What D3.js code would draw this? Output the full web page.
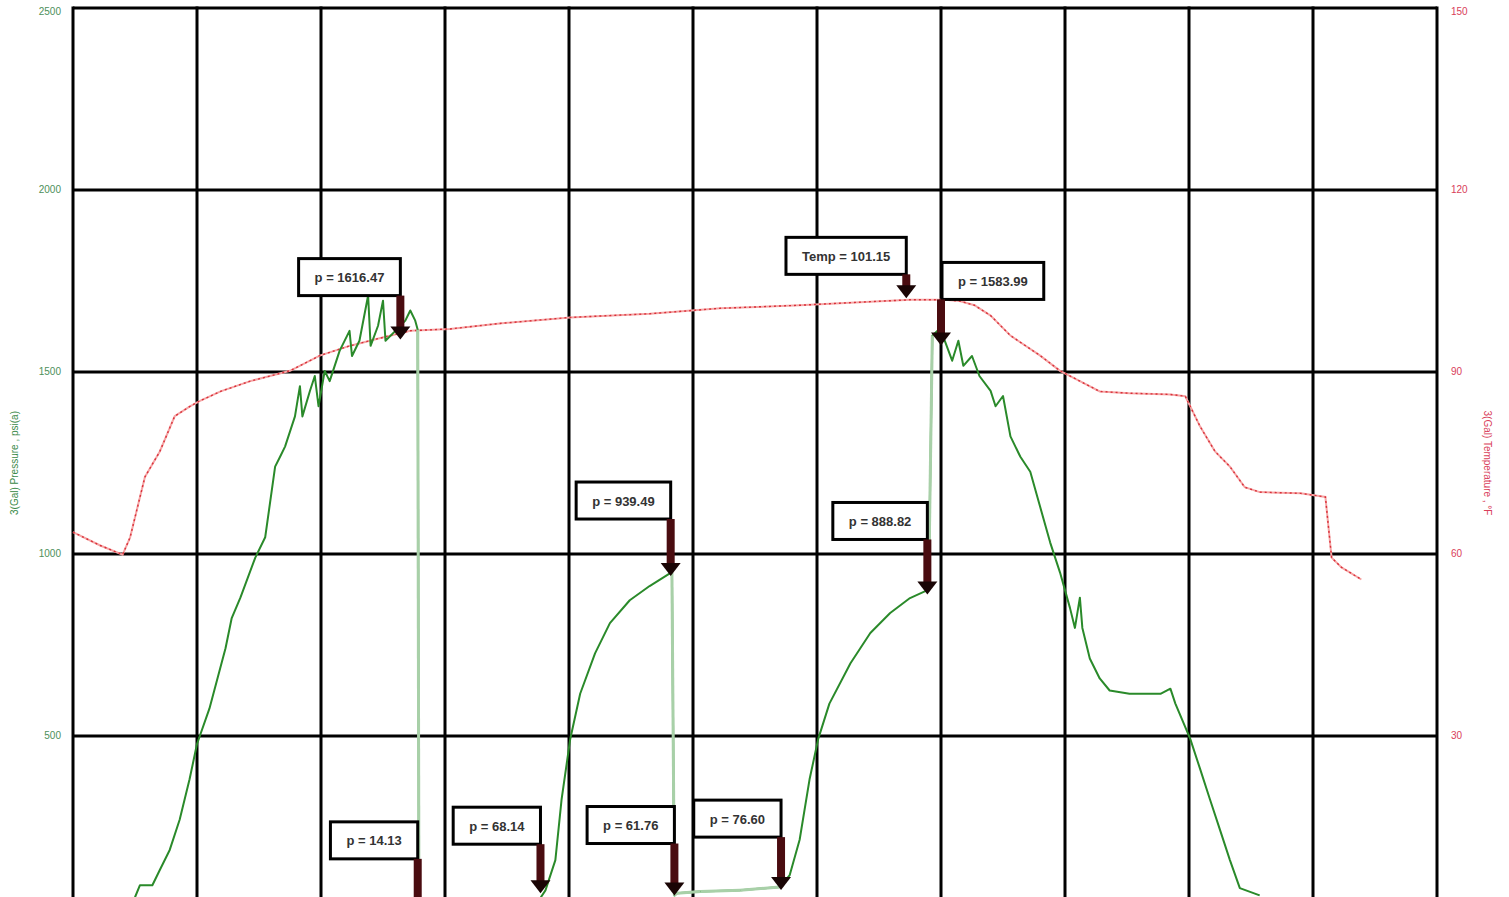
<!DOCTYPE html>
<html>
<head>
<meta charset="utf-8">
<script src="https://cdn.jsdelivr.net/npm/d3@7"></script>
<style>
  body { margin: 0; background: #fff; overflow: hidden; }
  svg { display: block; font-family: "Liberation Sans", Arial, sans-serif; }
</style>
</head>
<body>
<div id="chart"></div>
<script>
var width = 1509;
var height = 897;
var margin = {top: 8, right: 72, left: 73};

// pressure trace (time in hours, psi)
var pressureTime = [0.50, 0.54, 0.64, 0.70, 0.78, 0.86, 0.94, 1.00, 1.10, 1.23, 1.28, 1.35, 1.47, 1.55, 1.63, 1.67, 1.71, 1.79, 1.83, 1.85, 1.91, 1.95, 1.98, 2.03, 2.07, 2.15, 2.23, 2.25, 2.31, 2.38, 2.40, 2.46, 2.50, 2.52, 2.60, 2.68, 2.72, 2.76, 2.78,
  2.79, 3.60, 3.69, 3.81, 3.89, 3.94, 4.01, 4.09, 4.21, 4.33, 4.49, 4.65, 4.81, 4.83, 4.85,
  4.87, 5.06, 5.38, 5.70, 5.78, 5.86, 5.94, 6.01, 6.10, 6.27, 6.43, 6.59, 6.75, 6.90,
  6.93, 6.97, 7.03, 7.09, 7.14, 7.18, 7.25, 7.31, 7.40, 7.44, 7.50, 7.56, 7.64, 7.72, 7.80, 7.88, 7.96, 8.04, 8.08, 8.12, 8.14, 8.20, 8.28, 8.36, 8.52, 8.77, 8.85, 8.89, 9.01, 9.09, 9.17, 9.25, 9.33, 9.41, 9.57];
var pressure = [57, 90, 90, 132, 187, 270, 381, 478, 575, 741, 824, 880, 990, 1046, 1240, 1267, 1295, 1378, 1461, 1378, 1447, 1489, 1406, 1503, 1475, 1558, 1613, 1544, 1586, 1710, 1572, 1627, 1696, 1586, 1613, 1641, 1669, 1641, 1616,
  0, 0, 14, 76, 159, 325, 492, 616, 727, 810, 873, 912, 946, 949, 62,
  68, 73, 76, 85, 118, 215, 381, 492, 589, 700, 783, 838, 879, 902,
  1600, 1613, 1586, 1531, 1586, 1517, 1544, 1489, 1448, 1406, 1434, 1323, 1267, 1226, 1129, 1032, 949, 852, 797, 880, 797, 713, 658, 625, 616, 616, 630, 589, 492, 409, 325, 242, 159, 82, 62];

// temperature trace (time in hours, deg F)
var tempTime = [0, 0.22, 0.40, 0.46, 0.58, 0.70, 0.82, 0.94, 1.02, 1.19, 1.43, 1.75, 1.99, 2.23, 2.48, 2.72, 3.04, 3.44, 4.01, 4.65, 5.22, 5.86, 6.43, 6.75, 7.03, 7.15, 7.27, 7.40, 7.56, 7.80, 7.96, 8.12, 8.28, 8.52, 8.85, 8.97, 9.09, 9.21, 9.33, 9.45, 9.57, 9.90, 10.10, 10.15, 10.23, 10.39];
var temperature = [63.6, 61.4, 59.9, 62.7, 72.7, 76.9, 82.7, 84.3, 85.2, 86.8, 88.5, 90.2, 92.7, 94.3, 95.6, 96.8, 97.1, 98.0, 99.0, 99.6, 100.5, 101.0, 101.6, 101.9, 101.9, 101.7, 101.0, 99.3, 96.0, 92.7, 90.2, 88.5, 86.8, 86.5, 86.3, 86.0, 81.0, 76.9, 74.4, 71.0, 70.2, 70.0, 69.4, 59.4, 57.8, 55.8];

// annotations
var annoText = ["p = 1616.47", "Temp = 101.15", "p = 1583.99", "p = 939.49", "p = 888.82", "p = 14.13", "p = 68.14", "p = 61.76", "p = 76.60"];
var annoTime = [2.64, 6.72, 7.00, 4.82, 6.89, 2.78, 3.77, 4.85, 5.71];
var annoValue = [1616.47, 101.15, 1583.99, 939.49, 888.82, 14.13, 68.14, 61.76, 76.60];
var annoAxis = ["p", "T", "p", "p", "p", "p", "p", "p", "p"];

var xTicks = [0, 1, 2, 3, 4, 5, 6, 7, 8, 9, 10, 11];
var pTicks = [500, 1000, 1500, 2000, 2500];
var tTicks = [30, 60, 90, 120, 150];

// layout of the callouts: arrow length, extra drop of the tip, box side
var annoLayout = [
  {len: 44, tip: 10, side: "left"}, {len: 24, tip: -6, side: "left"}, {len: 46, tip: 4, side: "right"},
  {len: 57, tip: 0, side: "left"}, {len: 55, tip: 0, side: "left"}, {len: 54, tip: 0, side: "left"},
  {len: 49, tip: 0, side: "left"}, {len: 52, tip: 0, side: "left"}, {len: 53, tip: 0, side: "left"}
];

var svg = d3.select("#chart").append("svg")
    .attr("width", width)
    .attr("height", height);

var x = d3.scaleLinear().domain([0, 11]).range([margin.left, width - margin.right]);
var yP = d3.scaleLinear().domain([0, 2500]).range([918, margin.top]);
var yT = d3.scaleLinear().domain([0, 150]).range([918, margin.top]);

// grid
var grid = svg.append("g");
grid.selectAll(".vl").data(xTicks).enter().append("line")
    .attr("x1", function(d) { return x(d); })
    .attr("x2", function(d) { return x(d); })
    .attr("y1", yP(2500) - 1.5).attr("y2", height)
    .attr("stroke", "#000").attr("stroke-width", 3);
grid.selectAll(".hl").data(pTicks).enter().append("line")
    .attr("x1", x(0)).attr("x2", x(11))
    .attr("y1", function(d) { return yP(d); })
    .attr("y2", function(d) { return yP(d); })
    .attr("stroke", "#000").attr("stroke-width", 3);

// axis labels
svg.append("g").selectAll("text").data(pTicks).enter().append("text")
    .attr("x", 61).attr("y", function(d) { return yP(d) + (d == 2500 ? 7 : 3); })
    .attr("text-anchor", "end")
    .style("font-size", "10px").attr("fill", "#4d8f5a")
    .text(function(d) { return d; });
svg.append("g").selectAll("text").data(tTicks).enter().append("text")
    .attr("x", 1451).attr("y", function(d) { return yT(d) + (d == 150 ? 7 : 3); })
    .style("font-size", "10px").attr("fill", "#d9405a")
    .text(function(d) { return d; });

svg.append("text")
    .attr("transform", "translate(18," + yP(1250) + ") rotate(-90)")
    .attr("text-anchor", "middle")
    .style("font-size", "10px").attr("fill", "#3a8a4a")
    .text("3(Gal) Pressure , psi(a)");
svg.append("text")
    .attr("transform", "translate(1484," + yT(75) + ") rotate(90)")
    .attr("text-anchor", "middle")
    .style("font-size", "10px").attr("fill", "#d9405a")
    .text("3(Gal) Temperature , \u00b0F");

// temperature line
var tempData = tempTime.map(function(t, i) { return [t, temperature[i]]; });
var tLine = d3.line().x(function(d) { return x(d[0]); }).y(function(d) { return yT(d[1]); });
svg.append("path").datum(tempData).attr("d", tLine)
    .attr("fill", "none").attr("stroke", "#f5a5a5").attr("stroke-width", 2);
svg.append("path").datum(tempData).attr("d", tLine)
    .attr("fill", "none").attr("stroke", "#d8303a").attr("stroke-width", 1.4)
    .attr("stroke-dasharray", "2,3");

// pressure line
var pData = pressureTime.map(function(t, i) { return [t, pressure[i]]; });
var pLine = d3.line().x(function(d) { return x(d[0]); }).y(function(d) { return yP(d[1]); });
svg.append("path").datum(pData).attr("d", pLine)
    .attr("fill", "none").attr("stroke", "#2a8a2a").attr("stroke-width", 2)
    .attr("stroke-linejoin", "round");

// steep jumps and the shut-in flat are drawn pale
var jumps = [];
for (var i = 1; i < pData.length; i++) {
  if (Math.abs(pData[i][1] - pData[i - 1][1]) > 500) jumps.push([pData[i - 1], pData[i]]);
  if (pressureTime[i] > 4.86 && pressureTime[i] <= 5.71) jumps.push([pData[i - 1], pData[i]]);
}
svg.append("g").selectAll("path").data(jumps).enter().append("path")
    .attr("d", pLine)
    .attr("fill", "none").attr("stroke", "#a8d0a8").attr("stroke-width", 3);

// callouts
var ann = svg.append("g");
annoText.forEach(function(txt, i) {
  var ax = x(annoTime[i]);
  var lay = annoLayout[i];
  var ay = (annoAxis[i] == "p" ? yP(annoValue[i]) : yT(annoValue[i])) + lay.tip;
  var boxBottom = ay - lay.len;

  var g = ann.append("g");
  var t = g.append("text")
      .style("font-size", "13px").style("font-weight", "bold")
      .attr("fill", "#333").text(txt);
  var w = t.node().getComputedTextLength() + 32;
  var h = 37;
  var bx = lay.side == "left" ? ax - w : ax + 1;
  g.insert("rect", "text")
      .attr("x", bx).attr("y", boxBottom - h)
      .attr("width", w).attr("height", h)
      .attr("fill", "#fff").attr("stroke", "#000").attr("stroke-width", 3);
  t.attr("x", bx + 16).attr("y", boxBottom - h / 2 + 5);

  // arrow
  g.append("rect")
      .attr("x", ax - 4).attr("y", boxBottom)
      .attr("width", 8).attr("height", Math.max(0, lay.len - 12))
      .attr("fill", "#4a0c10");
  g.append("path")
      .attr("d", "M" + (ax - 10) + "," + (ay - 13) + "L" + (ax + 10) + "," + (ay - 13) + "L" + ax + "," + ay + "Z")
      .attr("fill", "#1a0505");
});
</script>
</body>
</html>
